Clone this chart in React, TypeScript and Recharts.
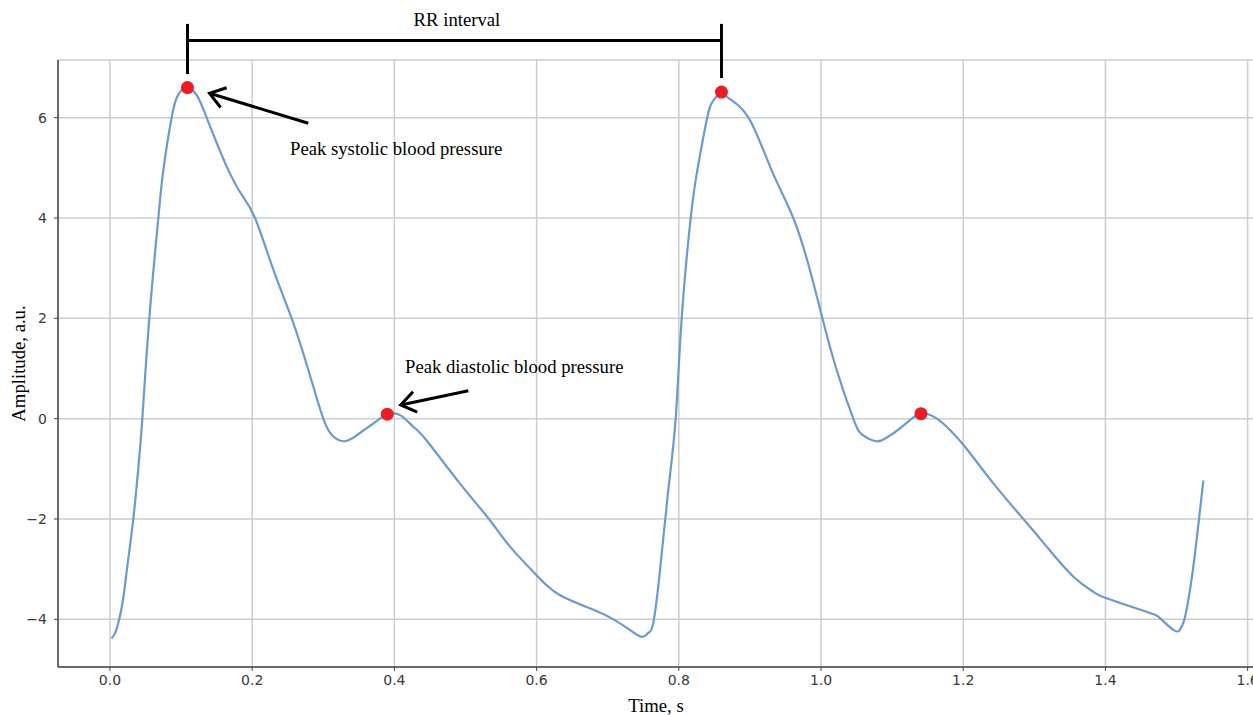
import React from 'react';
import {
  ComposedChart,
  Line,
  Scatter,
  XAxis,
  YAxis,
  CartesianGrid,
  ReferenceLine,
  ReferenceDot,
} from 'recharts';

// ---- signal ----
const times = [
  0.002, 0.007, 0.013, 0.019, 0.0243, 0.0328, 0.04, 0.0455, 0.0553, 0.068, 0.075, 0.0867, 0.0947,
  0.102, 0.109, 0.122, 0.136, 0.15, 0.166, 0.185, 0.204, 0.23, 0.2555, 0.279, 0.3, 0.313, 0.328,
  0.342, 0.352, 0.372, 0.39, 0.408, 0.4266, 0.445, 0.492, 0.533, 0.5626, 0.602, 0.633, 0.68, 0.708,
  0.73, 0.748, 0.757, 0.764, 0.7736, 0.785, 0.7956, 0.804, 0.8167, 0.826, 0.84, 0.849, 0.86, 0.87,
  0.898, 0.9306, 0.961, 0.9845, 1.002, 1.022, 1.0454, 1.058, 1.078, 1.092, 1.102, 1.12, 1.1406,
  1.163, 1.181, 1.2025, 1.2424, 1.2846, 1.3174, 1.355, 1.383, 1.4018, 1.458, 1.477, 1.498, 1.506,
  1.512, 1.5236, 1.5377,
];
const amplitudes = [
  -4.38, -4.28, -4.0, -3.55, -2.95, -2.0, -0.96, 0.0, 2.0, 4.0, 4.95, 6.0, 6.42,
  6.57, 6.6, 6.45, 6.0, 5.5, 4.97, 4.47, 4.0, 2.96, 2.0, 0.97, 0.0, -0.34, -0.45,
  -0.38, -0.28, -0.08, 0.09, 0.07, -0.16, -0.43, -1.29, -2.0, -2.55, -3.15, -3.52, -3.81, -4.0,
  -4.2, -4.35, -4.27, -4.08, -3.02, -1.45, 0.0, 2.0, 4.0, 4.95, 6.0, 6.35, 6.51, 6.39,
  6.0, 4.95, 4.0, 2.96, 2.0, 0.97, 0.0, -0.32, -0.45, -0.38, -0.29, -0.09, 0.1,
  0.0, -0.22, -0.56, -1.29, -2.0, -2.55, -3.15, -3.45, -3.58, -3.85, -3.98, -4.23, -4.17,
  -3.95, -2.95, -1.23,
];

// ---- detected peaks ----
const peakTimes = [0.109, 0.39, 0.86, 1.1406];
const peakAmps = [6.6, 0.09, 6.51, 0.1];

// ---- ticks ----
const xTicks = [0, 0.2, 0.4, 0.6, 0.8, 1.0, 1.2, 1.4, 1.6];
const yTicks = [-4, -2, 0, 2, 4, 6];

// ---- annotations (data coordinates) ----
const bracketLines = [
  [{ x: 0.109, y: 7.54 }, { x: 0.86, y: 7.54 }],
  [{ x: 0.109, y: 7.87 }, { x: 0.109, y: 6.87 }],
  [{ x: 0.86, y: 7.87 }, { x: 0.86, y: 6.79 }],
];
const arrowLines = [
  [{ x: 0.2789, y: 5.89 }, { x: 0.14, y: 6.486 }],
  [{ x: 0.504, y: 0.558 }, { x: 0.4089, y: 0.273 }],
];
const textNotes = [
  { text: 'RR interval', x: 0.488, y: 7.83, anchor: 'middle' },
  { text: 'Peak systolic blood pressure', x: 0.2532, y: 5.256, anchor: 'start' },
  { text: 'Peak diastolic blood pressure', x: 0.4149, y: 0.905, anchor: 'start' },
];

const signal = times.map((t, i) => ({ t, v: amplitudes[i] }));
const peaks = peakTimes.map((t, i) => ({ t, v: peakAmps[i] }));

const SERIF = '"Liberation Serif", "Times New Roman", serif';
const SANS = '"DejaVu Sans", sans-serif';

const plainLine = (p: any) => (
  <line x1={p.x1} y1={p.y1} x2={p.x2} y2={p.y2} stroke="#000" strokeWidth={3} />
);

const arrowShape = (p: any) => {
  const { x1, y1, x2, y2 } = p;
  const ang = Math.atan2(y1 - y2, x1 - x2);
  const len = 18;
  const spread = (35 * Math.PI) / 180;
  const ax = x2 + len * Math.cos(ang + spread);
  const ay = y2 + len * Math.sin(ang + spread);
  const bx = x2 + len * Math.cos(ang - spread);
  const by = y2 + len * Math.sin(ang - spread);
  return (
    <g>
      <line x1={x1} y1={y1} x2={x2} y2={y2} stroke="#000" strokeWidth={3} />
      <polyline
        points={`${ax},${ay} ${x2},${y2} ${bx},${by}`}
        fill="none"
        stroke="#000"
        strokeWidth={3}
        strokeLinejoin="miter"
      />
    </g>
  );
};

const fmtX = (v: number) => v.toFixed(1);
const fmtY = (v: number) => (v < 0 ? '\u2212' + Math.abs(v) : String(v));

const tickStyle = { fill: '#3a3a3a', fontSize: 14, fontFamily: SANS };

export default function App() {
  return (
    <div
      style={{
        position: 'fixed',
        left: 0,
        top: 0,
        width: 1253,
        height: 715,
        overflow: 'hidden',
        background: '#fff',
      }}
    >
      <ComposedChart
        width={1270}
        height={715}
        margin={{ top: 60, right: 8, bottom: 0, left: 0 }}
      >
        <CartesianGrid stroke="#cdcdcd" strokeWidth={1.5} />
        <XAxis
          dataKey="t"
          type="number"
          domain={[-0.0731, 1.6202]}
          allowDataOverflow
          ticks={xTicks}
          interval={0}
          tickFormatter={fmtX}
          height={48}
          tickSize={4}
          tickMargin={4}
          axisLine={{ stroke: '#444', strokeWidth: 1.5 }}
          tickLine={{ stroke: '#444' }}
          tick={tickStyle}
          label={{
            value: 'Time, s',
            position: 'insideBottom',
            offset: 3,
            dx: -4,
            style: { fontFamily: SERIF, fontSize: 18.7, fill: '#000' },
          }}
        />
        <XAxis
          xAxisId="top"
          orientation="top"
          type="number"
          domain={[-0.0731, 1.6202]}
          allowDataOverflow
          height={0}
          tick={false}
          tickLine={false}
          axisLine={{ stroke: '#444', strokeWidth: 1.5 }}
        />
        <YAxis
          type="number"
          domain={[-4.95, 7.15]}
          allowDataOverflow
          ticks={yTicks}
          interval={0}
          tickFormatter={fmtY}
          width={58}
          tickSize={4}
          tickMargin={7}
          axisLine={{ stroke: '#444', strokeWidth: 1.5 }}
          tickLine={{ stroke: '#444' }}
          tick={tickStyle}
          label={{
            value: 'Amplitude, a.u.',
            angle: -90,
            position: 'insideLeft',
            offset: 18,
            textAnchor: 'middle',
            style: { fontFamily: SERIF, fontSize: 18.7, fill: '#000', textAnchor: 'middle' },
          }}
        />
        <Line
          data={signal}
          dataKey="v"
          type="natural"
          stroke="#6a9bcf"
          strokeWidth={2.2}
          dot={false}
          activeDot={false}
          isAnimationActive={false}
        />
        <Scatter
          data={peaks}
          dataKey="v"
          isAnimationActive={false}
          shape={(p: any) => <circle cx={p.cx} cy={p.cy} r={6.5} fill="#ec1c24" />}
        />
        {bracketLines.map((seg, i) => (
          <ReferenceLine key={'b' + i} segment={seg} ifOverflow="visible" shape={plainLine} />
        ))}
        {arrowLines.map((seg, i) => (
          <ReferenceLine key={'a' + i} segment={seg} ifOverflow="visible" shape={arrowShape} />
        ))}
        {textNotes.map((n, i) => (
          <ReferenceDot
            key={'t' + i}
            x={n.x}
            y={n.y}
            r={0}
            ifOverflow="visible"
            shape={(p: any) => (
              <text
                x={p.cx}
                y={p.cy}
                textAnchor={n.anchor as any}
                fontFamily={SERIF}
                fontSize={18.7}
                fill="#000"
              >
                {n.text}
              </text>
            )}
          />
        ))}
      </ComposedChart>
    </div>
  );
}
